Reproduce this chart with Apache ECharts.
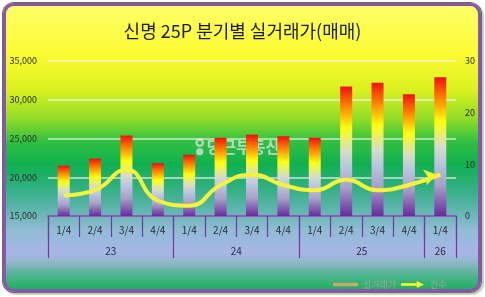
<!DOCTYPE html>
<html>
<head>
<meta charset="utf-8">
<script src="https://cdn.jsdelivr.net/npm/echarts@6/dist/echarts.min.js"></script>
<style>
    html, body { margin: 0; padding: 0; background: #ffffff; }
    #frame {
        position: absolute; left: 3px; top: 3px; width: 472px; height: 283px;
        border: 3px solid #8a55b2; border-radius: 11px;
        box-shadow: 0 0 0 1px #6b6b58, 2px 2px 0 1px #c8d0c0;
        background: linear-gradient(to bottom,
            #ffff66 0%, #fbfb30 18%, #d8f020 30%, #90dc28 40%, #30c040 48%,
            #10b050 56%, #30b080 64%, #58b4a8 71%, #90bcd4 79%, #a8b6e6 87%,
            #98b8d0 90%, #50b490 95%, #20b060 100%);
    }
    #chart { position: absolute; left: 0; top: 0; width: 485px; height: 297px; }
</style>
</head>
<body>
<div id="frame"></div>
<div id="chart"></div>
<script>
// quarter labels and which year each quarter belongs to
var quarters = ['1/4', '2/4', '3/4', '4/4', '1/4', '2/4', '3/4', '4/4', '1/4', '2/4', '3/4', '4/4', '1/4'];
var yearOf = ['23', '23', '23', '23', '24', '24', '24', '24', '25', '25', '25', '25', '26'];

// 실거래가 (left axis) and 건수 (right axis)
var prices = [21500, 22400, 25400, 21800, 22900, 25100, 25500, 25300, 25100, 31700, 32200, 30700, 32900];
var counts = [4, 5, 9, 3, 2, 6, 8, 6, 5, 7, 5, 6, 8];

var priceTicks = [15000, 35000, 5000];   // min, max, step
var countTicks = [0, 30, 10];

var purple = '#7436a6';
var fontKR = "'Noto Sans CJK KR', 'Noto Sans', sans-serif";

// year group boundaries and centres on a 0..n value scale
var yearBounds = [0];
var yearCenters = [];
var yearNames = [];
(function () {
    var start = 0;
    for (var i = 1; i <= yearOf.length; i++) {
        if (i == yearOf.length || yearOf[i] != yearOf[start]) {
            yearBounds.push(i);
            yearCenters.push((start + i) / 2);
            yearNames.push(yearOf[start]);
            start = i;
        }
    }
})();

var myChart = echarts.init(document.getElementById('chart'), null, { renderer: 'canvas' });

var barColor = new echarts.graphic.LinearGradient(0, 0, 0, 1, [
    { offset: 0, color: '#f01010' },
    { offset: 0.14, color: '#ff7a00' },
    { offset: 0.32, color: '#ffff10' },
    { offset: 0.5, color: '#d8dcc8' },
    { offset: 0.62, color: '#bcc4e0' },
    { offset: 0.78, color: '#a8a0c8' },
    { offset: 1, color: '#6a2a9e' }
]);

var countData = counts.map(function (v, i) {
    if (i == counts.length - 1) {
        return { value: v, symbol: 'arrow', symbolSize: [12, 13], symbolRotate: -78, symbolOffset: [-3, 0] };
    }
    return v;
});

var option = {
    backgroundColor: 'transparent',
    textStyle: { fontFamily: fontKR },
    animation: false,
    title: {
        text: '신명 25P 분기별 실거래가(매매)',
        left: 'center',
        top: 17,
        textStyle: { fontSize: 18, fontWeight: 'normal', color: '#1c1c1c', fontFamily: fontKR }
    },
    legend: {
        left: 328,
        top: 275,
        itemGap: 5,
        itemWidth: 25,
        itemHeight: 7,
        textStyle: { fontSize: 9, color: '#a2a2a2', fontFamily: fontKR },
        data: [
            { name: '실거래가', icon: 'path://M0,0L25,0L25,1.6L0,1.6Z M0,1.6L25,1.6L25,3.4L0,3.4Z', itemStyle: { color: '#c9a86c' } },
            { name: '건수', icon: 'path://M0,2.5L18,2.5L18,0L26,4L18,8L18,5.5L0,5.5Z', itemStyle: { color: '#ffff22' } }
        ]
    },
    grid: { left: 48, right: 29, top: 61, bottom: 81 },
    xAxis: [
        {
            type: 'category',
            data: quarters,
            position: 'bottom',
            axisLine: { lineStyle: { color: purple, width: 1.5 } },
            axisTick: { show: true, interval: 0, length: 21, lineStyle: { color: purple, width: 1.2 } },
            axisLabel: { interval: 0, margin: 9, fontSize: 10, color: '#2a2a3a' }
        },
        {
            type: 'value',
            min: 0,
            max: quarters.length,
            position: 'bottom',
            offset: 0,
            splitLine: { show: false },
            axisLine: { show: false },
            axisTick: { show: true, customValues: yearBounds, length: 42, lineStyle: { color: purple, width: 1.2 } },
            axisLabel: {
                customValues: yearCenters,
                margin: 30,
                fontSize: 10,
                color: '#2a2a3a',
                formatter: function (value) {
                    var k = yearCenters.indexOf(value);
                    return k >= 0 ? yearNames[k] : '';
                }
            }
        }
    ],
    yAxis: [
        {
            type: 'value',
            min: priceTicks[0],
            max: priceTicks[1],
            interval: priceTicks[2],
            axisLine: { show: false },
            axisTick: { show: false },
            axisLabel: {
                fontSize: 9, color: '#2a2a2a', margin: 11,
                formatter: function (v) { return v.toLocaleString('en-US'); }
            },
            splitLine: { show: true, lineStyle: { color: 'rgba(240,245,245,0.8)', width: 1.5 } }
        },
        {
            type: 'value',
            min: countTicks[0],
            max: countTicks[1],
            interval: countTicks[2],
            position: 'right',
            axisLine: { show: false },
            axisTick: { show: false },
            splitLine: { show: false },
            axisLabel: { fontSize: 9, color: '#2a2a2a', margin: 9 }
        }
    ],
    graphic: [
        {
            type: 'group',
            left: 194,
            top: 137,
            z: 100,
            children: [
                { type: 'circle', shape: { cx: 5, cy: 5, r: 3.2 }, style: { fill: 'none', stroke: 'rgba(225,225,225,0.75)', lineWidth: 2.4 } },
                { type: 'circle', shape: { cx: 5, cy: 14, r: 3.6 }, style: { fill: 'rgba(225,225,225,0.75)' } },
                {
                    type: 'text', x: 12, y: 1,
                    style: { text: '당근부동산', fill: 'rgba(228,228,228,0.75)', font: 'bold 16px ' + fontKR }
                }
            ]
        }
    ],
    series: [
        {
            name: '실거래가',
            type: 'bar',
            xAxisIndex: 0,
            yAxisIndex: 0,
            barWidth: 12,
            data: prices,
            itemStyle: { color: barColor }
        },
        {
            name: '건수',
            type: 'line',
            xAxisIndex: 0,
            yAxisIndex: 1,
            data: countData,
            smooth: 0.5,
            symbol: 'none',
            showAllSymbol: true,
            lineStyle: { color: '#f4f43a', width: 4 },
            itemStyle: { color: '#f4f43a' },
            z: 5
        }
    ]
};

myChart.setOption(option);
</script>
</body>
</html>
